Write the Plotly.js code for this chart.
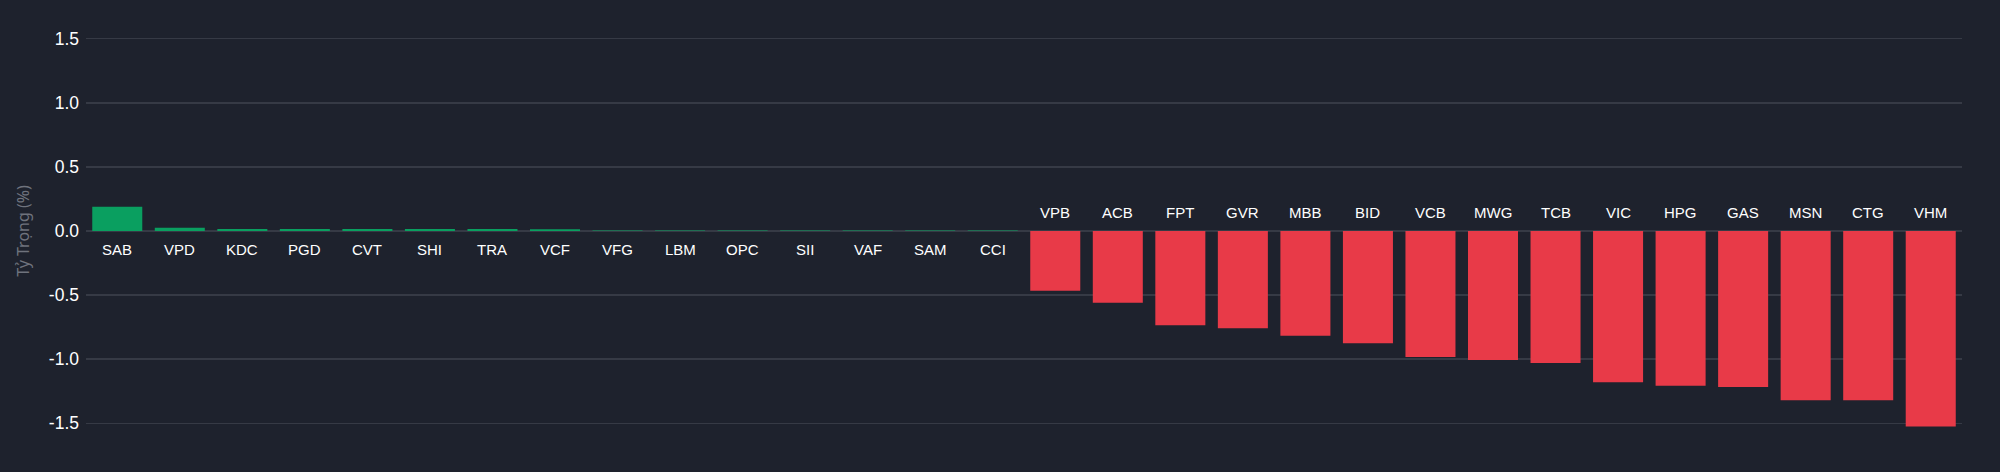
<!DOCTYPE html>
<html><head><meta charset="utf-8">
<script src="https://cdn.plot.ly/plotly-3.0.1.min.js"></script>
<style>html,body{margin:0;padding:0;background:#1e222d;}#chart{width:2000px;height:472px;}</style>
</head><body><div id="chart"></div>
<script>
const categories = ["SAB","VPD","KDC","PGD","CVT","SHI","TRA","VCF","VFG","LBM","OPC","SII","VAF","SAM","CCI",
  "VPB","ACB","FPT","GVR","MBB","BID","VCB","MWG","TCB","VIC","HPG","GAS","MSN","CTG","VHM"];
const weights = [0.19,0.026,0.016,0.015,0.015,0.015,0.015,0.013,0.004,0.004,0.004,0.004,0.004,0.003,0.003,
  -0.465,-0.559,-0.735,-0.759,-0.816,-0.875,-0.982,-1.005,-1.029,-1.18,-1.206,-1.216,-1.32,-1.32,-1.525];
const yTickVals = [-1.5,-1.0,-0.5,0,0.5,1.0,1.5];
const yTickText = ["-1.5","-1.0","-0.5","0.0","0.5","1.0","1.5"];

const colors = weights.map(v => v >= 0 ? "#0a9f60" : "#e83a48");
const annotations = categories.map((c,i) => ({
  x: c, y: 0, xref: "x", yref: "y", text: c, showarrow: false,
  yshift: weights[i] >= 0 ? -18 : 19,
  font: {family: "Liberation Sans, Arial, sans-serif", size: 15, color: "#ffffff"}
}));

Plotly.newPlot("chart", [{
  type: "bar", x: categories, y: weights,
  marker: {color: colors, line: {width: 0}},
  hoverinfo: "x+y"
}], {
  width: 2000, height: 472,
  paper_bgcolor: "#1e222d", plot_bgcolor: "#1e222d",
  margin: {l: 86, r: 38, t: 13, b: 23},
  bargap: 0.2,
  showlegend: false,
  xaxis: {showticklabels: false, showgrid: false, zeroline: false, showline: false, ticks: ""},
  yaxis: {
    range: [-1.7, 1.7], tickvals: yTickVals, ticktext: yTickText,
    showgrid: true, gridcolor: "#363a45", gridwidth: 1.5,
    zeroline: true, zerolinecolor: "#363a45", zerolinewidth: 1.5,
    tickfont: {family: "Liberation Sans, Arial, sans-serif", size: 17.5, color: "#ffffff"},
    ticklabelstandoff: 6,
    title: {text: "Tỷ Trọng (%)", standoff: 15,
      font: {family: "Noto Sans, sans-serif", size: 16, color: "#6f737d"}}
  },
  annotations: annotations
}, {displayModeBar: false, staticPlot: true});
</script></body></html>
